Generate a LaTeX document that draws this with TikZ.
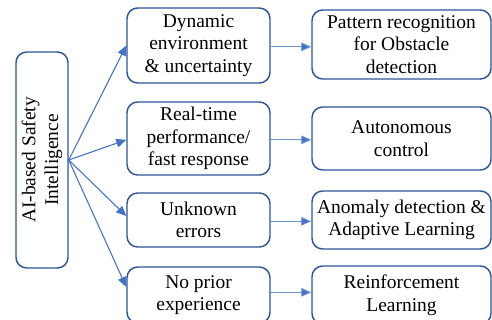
\documentclass[tikz,border=0pt]{standalone}
\usepackage{fontspec}
\setmainfont{Liberation Serif}
\usetikzlibrary{arrows.meta}
\definecolor{boxline}{HTML}{2F5597}
\definecolor{arrowc}{HTML}{4472C4}
\definecolor{linkc}{HTML}{6F93D3}
\begin{document}
\begin{tikzpicture}[x=0.75pt,y=-0.75pt,
  box/.style={draw=boxline,line width=1.1pt,rounded corners=8pt,fill=white,
    align=center,inner sep=0pt,
    font=\rmfamily\fontsize{14.6}{17}\selectfont},
  conn/.style={draw=arrowc,line width=0.8pt,-{Triangle[length=7.5pt,width=6.5pt]}},
  link/.style={draw=linkc,line width=0.7pt,-{Triangle[length=7.5pt,width=6.5pt,fill=arrowc]}}]
\useasboundingbox (0,0) rectangle (492,320);
\clip (0,0) rectangle (492,320);
% left box
\node[box,minimum width=39pt,minimum height=162pt] (L) at (42,160) {};
\node[rotate=90,align=center,font=\rmfamily\fontsize{14.6}{17}\selectfont] (Lt) at (L.center) {AI-based Safety\\Intelligence};
% middle boxes
\node[box,minimum width=107.25pt,minimum height=56.25pt] (m1) at (198.5,45.5) {Dynamic\\environment\\\& uncertainty};
\node[box,minimum width=107.25pt,minimum height=54.75pt] (m2) at (198.5,138.5) {Real-time\\performance/\\fast response};
\node[box,minimum width=107.25pt,minimum height=40.5pt] (m3) at (198.5,220) {Unknown\\errors};
\node[box,minimum width=107.25pt,minimum height=42pt] (m4) at (198.5,295) {No prior\\experience};
% right boxes
\node[box,minimum width=134.25pt,minimum height=51.75pt] (r1) at (401.5,44.5) {Pattern recognition\\for Obstacle\\detection};
\node[box,minimum width=134.25pt,minimum height=47.25pt] (r2) at (401.5,138.5) {Autonomous\\control};
\node[box,minimum width=134.25pt,minimum height=43.5pt] (r3) at (401.5,220) {Anomaly detection \&\\Adaptive Learning};
\node[box,minimum width=134.25pt,minimum height=43.5pt] (r4) at (401.5,295) {Reinforcement\\Learning};
% fan arrows
\draw[conn] (L.east) -- (m1.west);
\draw[conn] (L.east) -- ([yshift=-1pt]m2.west);
\draw[conn] (L.east) -- ([yshift=3pt]m3.west);
\draw[conn] (L.east) -- ([yshift=6pt]m4.west);
% horizontal arrows
\draw[link] ([yshift=-1pt]m1.east) -- ([yshift=-1pt]m1.east -| r1.west);
\draw[link] ([yshift=-1pt]m2.east) -- ([yshift=-1pt]m2.east -| r2.west);
\draw[link] ([yshift=-1pt]m3.east) -- ([yshift=-1pt]m3.east -| r3.west);
\draw[link] ([yshift=2pt]m4.east) -- ([yshift=2pt]m4.east -| r4.west);
\end{tikzpicture}
\end{document}
